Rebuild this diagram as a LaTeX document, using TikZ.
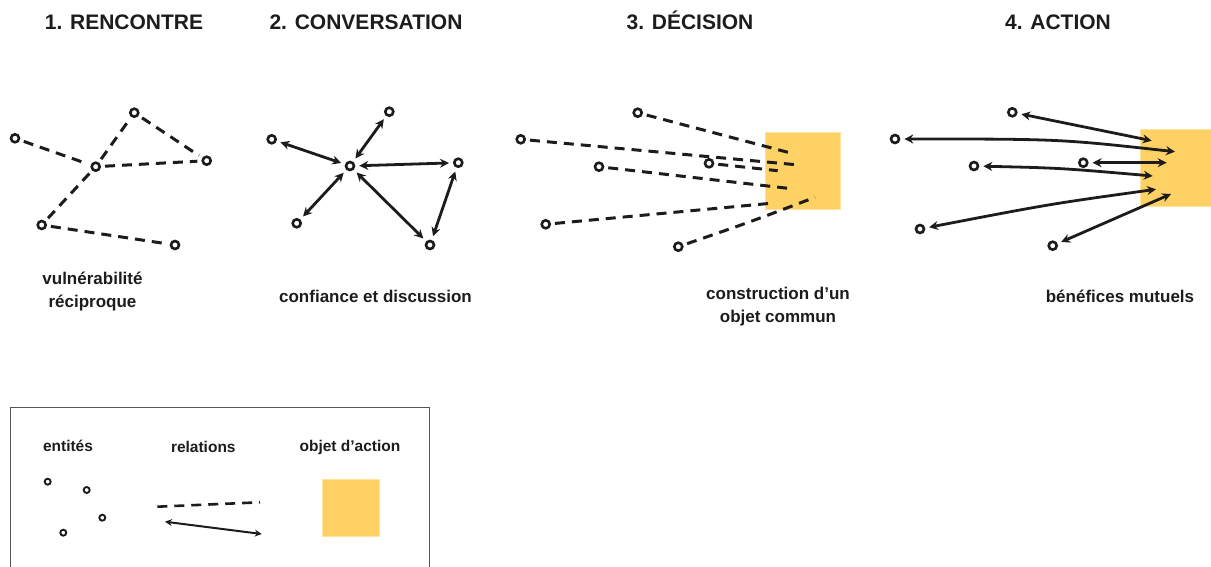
\documentclass[tikz,border=0pt]{standalone}
\usepackage{fontspec}
\setmainfont{Liberation Sans}
\usetikzlibrary{arrows.meta}
\definecolor{ink}{HTML}{1E1B1C}
\definecolor{post}{HTML}{FED164}
\definecolor{postedge}{HTML}{FFE39E}
\begin{document}
\begin{tikzpicture}[x=1pt,y=-1pt,
 ent/.style={circle,draw=ink,line width=2.6pt,minimum size=8pt,inner sep=0pt},
 ents/.style={circle,draw=ink,line width=1.9pt,minimum size=6pt,inner sep=0pt},
 rel/.style={draw=ink,line width=3pt,dash pattern=on 10pt off 7pt,shorten <=4pt,shorten >=4pt},
 relin/.style={draw=ink,line width=3pt,dash pattern=on 10pt off 7pt,shorten <=4pt},
 tip/.tip={Stealth[length=9pt,width=9pt,inset=3pt]},
 arr/.style={draw=ink,line width=2.8pt,{tip}-{tip},shorten <=4pt,shorten >=4pt},
 arrin/.style={draw=ink,line width=2.8pt,{tip}-{tip},shorten <=4pt},
 title/.style={font=\fontsize{21}{24}\selectfont\bfseries,text=ink,anchor=base},
 lab/.style={font=\fontsize{17}{23}\selectfont\bfseries,text=ink,align=center},
 legl/.style={font=\fontsize{15.5}{18}\selectfont\bfseries,text=ink,anchor=base},
 obj/.style={fill=post,draw=postedge,line width=0.6pt}]
\useasboundingbox (0,0) rectangle (1211,567);
\clip (0,0) rectangle (1211,567);

% titles
\node[title] (t1) at (124,30) {1. RENCONTRE};
\node[title] (t2) at (366,30) {2. CONVERSATION};
\node[title] (t3) at (690,30) {3. DÉCISION};
\node[title] (t4) at (1058,30) {4. ACTION};

% panel 1
\node[ent] (a1) at (15,138.3) {};
\node[ent] (b1) at (134.3,112.7) {};
\node[ent] (c1) at (95.7,166.7) {};
\node[ent] (d1) at (206.7,160.7) {};
\node[ent] (e1) at (41.7,225) {};
\node[ent] (f1) at (175,245) {};
\draw[rel] (a1) -- (c1);
\draw[rel] (c1) -- (b1);
\draw[rel] (b1) -- (d1);
\draw[rel] (c1) -- (d1);
\draw[rel] (c1) -- (e1);
\draw[rel] (e1) -- (f1);
\node[lab] (l1) at (92.5,292) {vulnérabilité\\réciproque};

% panel 2
\node[ent] (a2) at (271.7,139.3) {};
\node[ent] (b2) at (389.3,111.7) {};
\node[ent] (c2) at (350,166) {};
\node[ent] (d2) at (458.3,162.7) {};
\node[ent] (e2) at (296.7,223.3) {};
\node[ent] (f2) at (430,245) {};
\draw[arr] (a2) -- (c2);
\draw[arr] (b2) -- (c2);
\draw[arr] (c2) -- (d2);
\draw[arr] (c2) -- (e2);
\draw[arr] (c2) -- (f2);
\draw[arr] (d2) -- (f2);
\node[lab] (l2) at (375.5,296) {confiance et discussion};

% panel 3
\path[obj] (765.7,132.7) rectangle (840,209.3);
\node[ent] (n1) at (637.7,112.7) {};
\node[ent] (n2) at (520.7,139.3) {};
\node[ent] (n3) at (599,166.7) {};
\node[ent] (n4) at (709,163.3) {};
\node[ent] (n5) at (545.7,224.3) {};
\node[ent] (n6) at (678.3,246.7) {};
\coordinate (p1) at (791.7,153.3);
\coordinate (p2) at (799,165);
\coordinate (p3) at (794,189);
\coordinate (p4) at (777.7,170.7);
\coordinate (p5) at (770.7,203.3);
\coordinate (p6) at (815,197.3);
\draw[relin] (n1) -- (p1);
\draw[relin] (n2) -- (p2);
\draw[relin] (n3) -- (p3);
\draw[relin] (n4) -- (p4);
\draw[relin] (n5) -- (p5);
\draw[relin] (n6) .. controls (750,222) .. (p6);
\node[lab] (l3) at (778,307) {construction d’un\\objet commun};

% panel 4
\path[obj] (1140,129.3) rectangle (1214,206);
\node[ent] (m1) at (1012.3,112.3) {};
\node[ent] (m2) at (895,139) {};
\node[ent] (m3) at (974,166) {};
\node[ent] (m4) at (1083.3,162.7) {};
\node[ent] (m5) at (920,229) {};
\node[ent] (m6) at (1052.7,245.7) {};
\coordinate (q1) at (1151.7,140.7);
\coordinate (q2) at (1175,151.7);
\coordinate (q3) at (1152.7,176);
\coordinate (q4) at (1166.7,162.7);
\coordinate (q5) at (1156,189.3);
\coordinate (q6) at (1171,194);
\draw[arrin] (m1) -- (q1);
\draw[arrin] (m2) .. controls (1060,139) .. (q2);
\draw[arrin] (m3) .. controls (1060,168) .. (q3);
\draw[arrin] (m4) -- (q4);
\draw[arrin] (m5) .. controls (1050,204) .. (q5);
\draw[arrin] (m6) -- (q6);
\node[lab] (l4) at (1120,296) {bénéfices mutuels};

% legend
\draw[draw=ink!75,line width=0.9pt] (10,407.3) rectangle (429.3,580);
\node[legl] (g1) at (68,451) {entités};
\node[legl] (g2) at (203.3,452) {relations};
\node[legl] (g3) at (350,451) {objet d’action};
\node[ents] (s1) at (47.7,481.7) {};
\node[ents] (s2) at (86.7,490) {};
\node[ents] (s3) at (102.3,517.7) {};
\node[ents] (s4) at (63.3,532.7) {};
\coordinate (r1) at (157.3,506.7);
\coordinate (r2) at (260,502.3);
\coordinate (r3) at (165,521.7);
\coordinate (r4) at (261.7,534);
\draw[draw=ink,line width=2.6pt,dash pattern=on 10pt off 7pt] (r1) -- (r2);
\draw[draw=ink,line width=2pt,{Stealth[length=7pt,width=7pt,inset=2.5pt]}-{Stealth[length=7pt,width=7pt,inset=2.5pt]}] (r3) -- (r4);
\path[obj] (322.7,479) rectangle (379,536.7);
\end{tikzpicture}
\end{document}
